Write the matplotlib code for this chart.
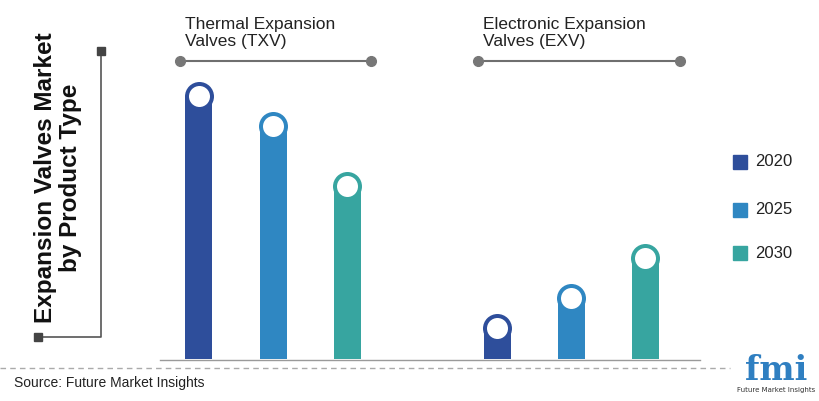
import matplotlib
matplotlib.use("Agg")
import matplotlib.pyplot as plt

groups = ["Thermal Expansion\nValves (TXV)", "Electronic Expansion\nValves (EXV)"]
years = ["2020", "2025", "2030"]
values = {
    "2020": [276, 44],
    "2025": [246, 74],
    "2030": [186, 114],
}
colors = ["#2E4E9B", "#2F87C2", "#37A5A0"]

W, H = 820, 401
fig = plt.figure(figsize=(W/100, H/100), dpi=100)
bg = fig.add_axes([0, 0, 1, 1])
bg.set_xlim(0, W); bg.set_ylim(H, 0); bg.axis("off")

base = 359
top = 40
ax = fig.add_axes([160/W, (H-base)/H, 540/W, (base-top)/H])
ax.set_xlim(160, 700); ax.set_ylim(0, base-top); ax.axis("off")
ax.patch.set_alpha(0)

group_centers = [273, 571]
offsets = [-74, 0, 74]
bw = 27
for i, y in enumerate(years):
    xs = [g + offsets[i] for g in group_centers]
    vals = [v - 13 for v in values[y]]
    ax.bar(xs, vals, width=bw, color=colors[i], zorder=2)
    ax.scatter(xs, vals, s=(29*0.72)**2, color=colors[i], zorder=3, linewidths=0)
    ax.scatter(xs, vals, s=(21*0.72)**2, color="white", zorder=4, linewidths=0)

bg.plot([160, 700], [360, 360], color="#9a9a9a", lw=1)
for g, lab, (x0, x1) in zip(group_centers, groups, [(180, 371), (478, 680)]):
    bg.text(x0 + 5, 33, lab, fontsize=12.5, family="Liberation Sans", color="#222222", va="center", ha="left", linespacing=1.1)
    bg.plot([x0, x1], [61, 61], color="#6f6f6f", lw=1.5)
    bg.plot([x0, x1], [61, 61], "o", color="#777777", ms=7)

bg.text(58, 178, "Expansion Valves Market\nby Product Type", rotation=90, fontsize=17.5, fontweight="bold",
        family="Liberation Sans", color="#111111", ha="center", va="center", linespacing=1.1)
bg.plot([101, 101, 38], [51, 337, 337], color="#555555", lw=1.2)
bg.plot([101], [51], "s", color="#444444", ms=6)
bg.plot([38], [337], "s", color="#444444", ms=6)

for i, (y, c) in enumerate(zip(years, colors)):
    yy = [162, 210, 253][i]
    bg.add_patch(plt.Rectangle((733, yy-7), 14, 14, color=c))
    bg.text(755, yy, y, fontsize=12, family="Liberation Sans", color="#222222", va="center")

bg.plot([0, 730], [368, 368], color="#aaaaaa", lw=1, ls=(0, (4, 3)))
bg.text(14, 383, "Source: Future Market Insights", fontsize=10, family="Liberation Sans", color="#222222", va="center")
bg.text(776, 370, "fmi", fontsize=24, fontweight="bold", family="DejaVu Serif", color="#2F7FC1", ha="center", va="center")
bg.text(776, 390, "Future Market Insights", fontsize=5, family="DejaVu Sans", color="#333333", ha="center", va="center")

fig.savefig("out.png", dpi=100)
